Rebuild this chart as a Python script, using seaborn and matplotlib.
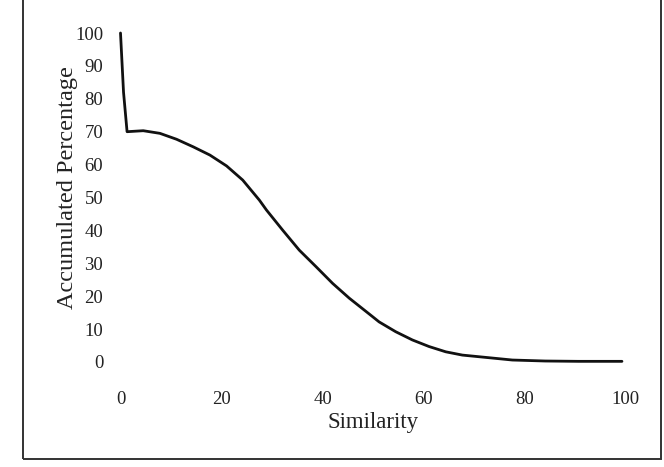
import matplotlib
matplotlib.use("Agg")
import matplotlib.pyplot as plt
import seaborn as sns
from matplotlib.patches import Rectangle

similarity = [0, 0.6, 1.3, 4.5, 7.8, 11.1, 14.4, 17.7, 21.0, 24.2, 27.5, 28.9,
              32.1, 35.4, 38.7, 42.0, 45.3, 49.9, 51.2, 54.5, 57.8, 61.1, 64.4,
              67.7, 71.0, 77.6, 84.1, 90.7, 99.3]
accumulated = [100, 82, 70, 70.3, 69.5, 67.7, 65.4, 62.9, 59.6, 55.3, 49.2, 46.2,
               40.1, 34.0, 29.0, 23.9, 19.4, 13.8, 12.2, 9.2, 6.7, 4.7, 3.1,
               2.1, 1.6, 0.6, 0.3, 0.2, 0.2]
x_ticks = [0, 20, 40, 60, 80, 100]
y_ticks = [0, 10, 20, 30, 40, 50, 60, 70, 80, 90, 100]

sns.set_style("white")
plt.rcParams['font.family'] = ['Liberation Serif', 'DejaVu Serif']

W, H = 664, 467
fig = plt.figure(figsize=(W / 100, H / 100), dpi=100)
x0, x1 = 120.5, 625.5
y0, y1 = 362, 33
ax = fig.add_axes([x0 / W, (H - y0) / H, (x1 - x0) / W, (y0 - y1) / H])

sns.lineplot(x=similarity, y=accumulated, ax=ax, color="#111111", linewidth=2.0,
             sort=False, estimator=None, clip_on=False)
ax.lines[0].set_solid_joinstyle('round')

ax.set_xlim(0, 100)
ax.set_ylim(0, 100)
ax.set_xticks(x_ticks)
ax.set_yticks(y_ticks)
ax.set_xticklabels([str(t) for t in x_ticks])
ax.set_yticklabels([str(t) for t in y_ticks])
ax.tick_params(axis='x', length=0, pad=21, labelsize=13.5, colors="#222222")
ax.tick_params(axis='y', length=0, pad=12.5, labelsize=13.5, colors="#222222")
for s in ax.spines.values():
    s.set_visible(False)
ax.grid(False)

ax.set_xlabel("Similarity", fontsize=16.5, color="#222222")
ax.xaxis.set_label_coords(0.5, (y0 - 412) / (y0 - y1))
ax.set_ylabel("Accumulated Percentage", fontsize=17.5, color="#222222")
ax.yaxis.label.set_va('center')
ax.yaxis.set_label_coords((68 - x0) / (x1 - x0), (y0 - 188) / (y0 - y1))

# figure frame
frame = Rectangle((22.5 / W, (H - 459) / H), (661 - 22.5) / W, 1.2,
                  transform=fig.transFigure, fill=False, edgecolor="#333333",
                  linewidth=1.4, clip_on=False)
fig.patches.append(frame)

fig.savefig("out.png", dpi=100, facecolor="white")
